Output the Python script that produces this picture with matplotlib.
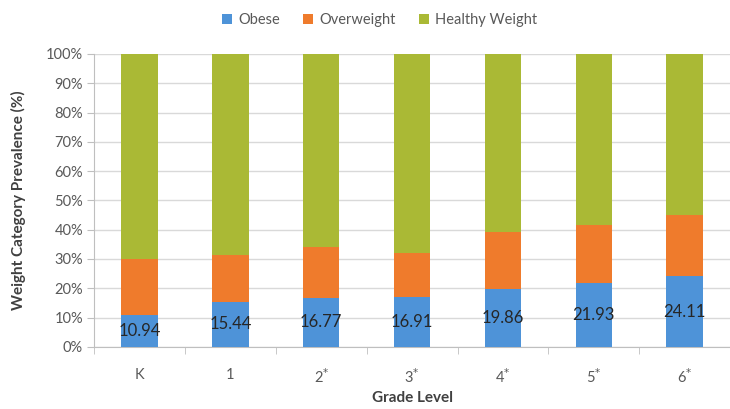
import matplotlib
matplotlib.use("Agg")
import matplotlib.pyplot as plt
from matplotlib.ticker import FixedLocator, PercentFormatter
import numpy as np

grades = ["K", "1", r"2$^{*}$", r"3$^{*}$", r"4$^{*}$", r"5$^{*}$", r"6$^{*}$"]
obese = [10.94, 15.44, 16.77, 16.91, 19.86, 21.93, 24.11]
overweight = [19.0, 16.0, 17.4, 15.1, 19.4, 19.7, 20.9]
healthy = [100 - o - w for o, w in zip(obese, overweight)]
series_names = ["Obese", "Overweight", "Healthy Weight"]
colors = ["#4E93D8", "#EF7B2C", "#AAB935"]

plt.rcParams['font.family'] = ['Lato', 'DejaVu Sans']
txt = "#595959"

fig = plt.figure(figsize=(7.30, 4.09), dpi=100)
ax = fig.add_axes([0.129, 0.152, 0.871, 0.716])

x = np.arange(len(grades))
w = 0.40
ax.bar(x, obese, w, color=colors[0], label=series_names[0], zorder=3)
ax.bar(x, overweight, w, bottom=obese, color=colors[1], label=series_names[1], zorder=3)
bot2 = [a + b for a, b in zip(obese, overweight)]
ax.bar(x, healthy, w, bottom=bot2, color=colors[2], label=series_names[2], zorder=3)

for xi, v in zip(x, obese):
    ax.text(xi, v / 2, f"{v:.2f}", ha="center", va="center", fontsize=12,
            color="#262626", zorder=4)

ax.set_xlim(-0.5, len(grades) - 0.5)
ax.set_ylim(0, 100)
ax.set_yticks(np.arange(0, 101, 10))
ax.yaxis.set_major_formatter(PercentFormatter(decimals=0))
ax.set_xticks(x)
ax.set_xticklabels(grades)
ax.xaxis.set_minor_locator(FixedLocator(np.arange(-0.5, len(grades), 1.0)))
ax.tick_params(axis="x", which="major", length=0, pad=15, labelsize=10.5, colors=txt)
ax.tick_params(axis="x", which="minor", length=5, color="#bfbfbf")
ax.tick_params(axis="y", length=5, color="#bfbfbf", labelsize=10.5, labelcolor=txt, pad=3)

ax.grid(axis="y", color="#d9d9d9", linewidth=1, zorder=0)
for s in ["top", "right"]:
    ax.spines[s].set_visible(False)
ax.spines["left"].set_color("#bfbfbf")
ax.spines["bottom"].set_color("#bfbfbf")

ax.set_ylabel("Weight Category Prevalence (%)", fontsize=11, fontweight="bold",
              color="#404040", labelpad=14)
ax.set_xlabel("Grade Level", fontsize=11, fontweight="bold", color="#404040", labelpad=3)

leg = fig.legend(loc="upper center", bbox_to_anchor=(0.52, 1.0), ncol=3, frameon=False,
                 fontsize=10.5, handlelength=0.7, handleheight=0.7, handletextpad=0.4,
                 columnspacing=1.6, labelcolor=txt)

fig.savefig("out.png", dpi=100)
